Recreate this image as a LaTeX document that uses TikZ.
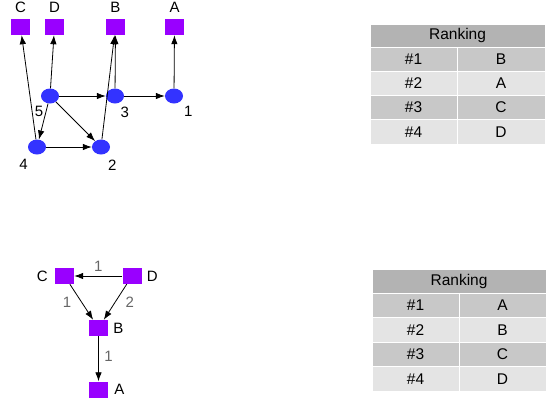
\documentclass[tikz,border=0pt]{standalone}
\usepackage{fontspec}
\setmainfont{Liberation Sans}
\usetikzlibrary{positioning,shapes.geometric,arrows.meta}

\definecolor{vblue}{HTML}{3333FF}
\definecolor{vpurple}{HTML}{9900FF}
\definecolor{hdrgray}{HTML}{B3B3B3}
\definecolor{rowdark}{HTML}{C8C8C8}
\definecolor{rowlight}{HTML}{E4E4E4}
\definecolor{wtgray}{HTML}{666666}

\begin{document}
\begin{tikzpicture}[x=1pt,y=-1pt,
        every node/.style={font=\fontsize{15}{17}\selectfont},
        vert/.style={ellipse,fill=vblue,minimum width=18pt,minimum height=15pt,inner sep=0pt},
        sq/.style={rectangle,fill=vpurple,minimum width=19pt,minimum height=16pt,inner sep=0pt},
        lbl/.style={inner sep=0pt},
        wt/.style={inner sep=0pt,text=wtgray},
        cell/.style={rectangle,draw=white,line width=1pt,outer sep=0pt,inner sep=0pt,font=\fontsize{15.5}{17}\selectfont},
        >={Latex[length=9pt,width=6.5pt]}]
            \useasboundingbox (0,0) rectangle (553,402);
            % upper graph
            \node[sq] (sC) at (20.5,27) {};
            \node[sq] (sD) at (54.5,27) {};
            \node[sq] (sB) at (115.5,27) {};
            \node[sq] (sA) at (174.5,27) {};
            \node[lbl] (tC)[above=6pt of sC] {C};
            \node[lbl] (tD)[above=6pt of sD] {D};
            \node[lbl] (tB)[above=6pt of sB] {B};
            \node[lbl] (tA)[above=6pt of sA] {A};
            \node[vert] (n5) at (50,96) {};
            \node[vert] (n3) at (115,96) {};
            \node[vert] (n1) at (174,96) {};
            \node[vert] (n4) at (37,147) {};
            \node[vert] (n2) at (101,147) {};
            \node[lbl] (l5)[below left=5pt and 0pt of n5] {5};
            \node[lbl] (l3)[below right=5pt and -1pt of n3] {3};
            \node[lbl] (l1)[below right=5pt and 3.5pt of n1] {1};
            \node[lbl] (l4)[below left=7pt and 2.5pt of n4] {4};
            \node[lbl] (l2)[below right=7pt and 0.5pt of n2] {2};
            \path[->,line width=0.8pt] (n5) edge (sD)
                        edge (n3)
                        edge (n4)
                        edge (n2)
                    (n3) edge (n1)
                        edge (sB)
                    (n1) edge (sA)
                    (n4) edge (n2)
                        edge (sC)
                    (n2) edge (sB);

            % upper ranking
            \node[cell,fill=hdrgray,minimum width=175pt,minimum height=23pt,anchor=north west] (hdrT) at (370,24) {Ranking};
            \foreach \r/\v/\c [count=\i] in {1/B/rowdark,2/A/rowlight,3/C/rowdark,4/D/rowlight}{
                \node[cell,fill=\c,minimum width=87pt,minimum height=24.25pt,anchor=north west] (rkT\i) at (370,{47+24.25*(\i-1)}) {\#\r};
                \node[cell,fill=\c,minimum width=88pt,minimum height=24.25pt] (rvT\i)[right=0pt of rkT\i] {\v};
            }

            % lower graph
            \node[sq] (bC) at (64.5,276) {};
            \node[sq] (bD) at (132,276) {};
            \node[sq] (bB) at (98.5,328) {};
            \node[sq] (bA) at (98.5,389.5) {};
            \node[lbl] (tbC)[left=7pt of bC] {C};
            \node[lbl] (tbD)[right=5pt of bD] {D};
            \node[lbl] (tbB)[right=5pt of bB] {B};
            \node[lbl] (tbA)[right=6pt of bA] {A};
            \path[->,line width=0.8pt] (bD) edge node[wt,above=4pt] (wDC) {1} (bC)
                        edge node[wt,right=10pt] (wDB) {2} (bB)
                    (bC) edge node[wt,left=10pt] (wCB) {1} (bB)
                    (bB) edge node[wt,right=5.5pt,pos=0.45] (wBA) {1} (bA);

            % lower ranking
            \node[cell,fill=hdrgray,minimum width=174pt,minimum height=24pt,anchor=north west] (hdrB) at (372,269) {Ranking};
            \foreach \r/\v/\c [count=\i] in {1/A/rowdark,2/B/rowlight,3/C/rowdark,4/D/rowlight}{
                \node[cell,fill=\c,minimum width=87pt,minimum height=24.5pt,anchor=north west] (rkB\i) at (372,{293+24.5*(\i-1)}) {\#\r};
                \node[cell,fill=\c,minimum width=87pt,minimum height=24.5pt] (rvB\i)[right=0pt of rkB\i] {\v};
            }
        \end{tikzpicture}
\end{document}
